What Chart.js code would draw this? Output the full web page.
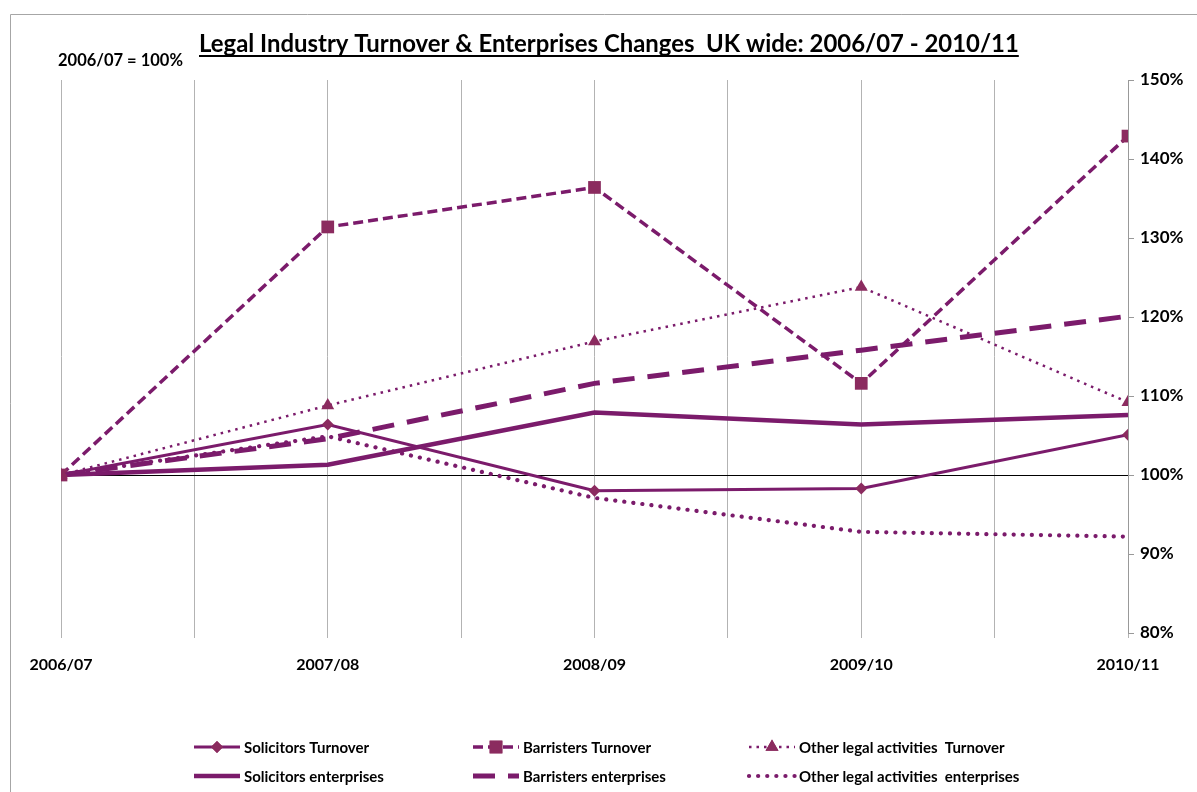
<!DOCTYPE html>
<html>
<head>
<meta charset="utf-8">
<script src="https://cdn.jsdelivr.net/npm/chart.js@4"></script>
<style>
  html, body { margin: 0; padding: 0; background: #fff; }
  #legalChart { display: block; }
</style>
</head>
<body>
<canvas id="legalChart" width="1197" height="792"></canvas>
<script>
// data (2006/07 = 100%)
const years = ['2006/07', '2007/08', '2008/09', '2009/10', '2010/11'];
const solicitorsTurnover = [100, 106.4, 98.0, 98.3, 105.1];
const barristersTurnover = [100, 131.4, 136.4, 111.6, 142.9];
const otherTurnover = [100, 108.8, 116.9, 123.8, 109.2];
const solicitorsEnterprises = [100, 101.3, 107.9, 106.4, 107.6];
const barristersEnterprises = [100, 104.6, 111.6, 115.8, 120.1];
const otherEnterprises = [100, 104.9, 97.1, 92.8, 92.2];
const yTicks = [80, 90, 100, 110, 120, 130, 140, 150];

const lineColor = '#7b1b6b';
const markerColor = '#8b2b5f';
const font = 'Lato, "Open Sans", sans-serif';

function toPoints(arr) {
  return arr.map((v, i) => ({ x: i, y: v }));
}

const seriesList = [
  { label: 'Solicitors Turnover', data: solicitorsTurnover, width: 3, dash: [], cap: 'butt', point: 'rectRot', radius: 6 },
  { label: 'Barristers Turnover', data: barristersTurnover, width: 3.5, dash: [10, 5], cap: 'butt', point: 'rect', radius: 9 },
  { label: 'Other legal activities  Turnover', data: otherTurnover, width: 2.5, dash: [2.5, 5], cap: 'butt', point: 'triangle', radius: 7.5 },
  { label: 'Solicitors enterprises', data: solicitorsEnterprises, width: 4.5, dash: [], cap: 'butt', point: false, radius: 0 },
  { label: 'Barristers enterprises', data: barristersEnterprises, width: 5, dash: [22, 13], cap: 'butt', point: false, radius: 0 },
  { label: 'Other legal activities  enterprises', data: otherEnterprises, width: 4.2, dash: [0.1, 9], cap: 'round', point: false, radius: 0 }
];

// title, base note, frame and legend drawn on the canvas
const decorPlugin = {
  id: 'decor',
  afterDraw(chart) {
    const ctx = chart.ctx;
    ctx.save();
    // frame (top and left edge visible)
    ctx.strokeStyle = '#a6a6a6';
    ctx.lineWidth = 1;
    ctx.beginPath();
    ctx.moveTo(10.5, 800);
    ctx.lineTo(10.5, 14.5);
    ctx.lineTo(1200, 14.5);
    ctx.stroke();

    // title, underlined
    const title = 'Legal Industry Turnover & Enterprises Changes  UK wide: 2006/07 - 2010/11';
    ctx.font = 'bold 20px ' + font;
    let w = ctx.measureText(title).width;
    const size = 20 * 820 / w;
    ctx.font = 'bold ' + size.toFixed(2) + 'px ' + font;
    w = ctx.measureText(title).width;
    ctx.fillStyle = '#000';
    ctx.textBaseline = 'alphabetic';
    ctx.textAlign = 'left';
    const tx = 199;
    ctx.fillText(title, tx, 52);
    ctx.fillRect(tx, 55, w, 2);

    ctx.font = 'bold 16.5px ' + font;
    ctx.fillText('2006/07 = 100%', 58, 66);

    // legend: 3 columns x 2 rows
    const cols = [194, 473, 749];
    const rows = [747, 776];
    ctx.font = 'bold 15px ' + font;
    ctx.textBaseline = 'middle';
    seriesList.forEach((s, i) => {
      const x0 = cols[i % 3];
      const y0 = rows[Math.floor(i / 3)];
      const len = 46;
      ctx.save();
      ctx.strokeStyle = lineColor;
      ctx.lineWidth = s.width;
      ctx.lineCap = s.cap;
      ctx.setLineDash(s.dash);
      ctx.beginPath();
      ctx.moveTo(x0, y0);
      ctx.lineTo(x0 + len, y0);
      ctx.stroke();
      ctx.restore();
      if (s.point) {
        ctx.save();
        ctx.fillStyle = markerColor;
        Chart.helpers.drawPoint(ctx, { pointStyle: s.point, radius: s.radius, rotation: 0, borderWidth: 0 }, x0 + len / 2, y0);
        ctx.fill();
        ctx.restore();
      }
      ctx.fillStyle = '#000';
      ctx.fillText(s.label, x0 + len + 4, y0 + 1);
    });
    ctx.restore();
  }
};

const ctx = document.getElementById('legalChart').getContext('2d');
new Chart(ctx, {
  type: 'line',
  data: {
    datasets: seriesList.map(s => ({
      label: s.label,
      data: toPoints(s.data),
      borderColor: lineColor,
      borderWidth: s.width,
      borderDash: s.dash,
      borderCapStyle: s.cap,
      backgroundColor: markerColor,
      pointStyle: s.point,
      pointRadius: s.radius,
      pointBackgroundColor: markerColor,
      pointBorderWidth: 0,
      pointHoverRadius: s.radius,
      tension: 0,
      fill: false
    }))
  },
  options: {
    responsive: false,
    animation: false,
    devicePixelRatio: 1,
    layout: { padding: { left: 61, top: 80, right: 0, bottom: 0 } },
    plugins: {
      legend: { display: false },
      title: { display: false },
      tooltip: { enabled: false }
    },
    scales: {
      x: {
        type: 'linear',
        min: 0,
        max: years.length - 1,
        grid: {
          color: '#b3b3b3',
          lineWidth: 1,
          drawTicks: true,
          tickLength: 5,
          tickColor: '#b3b3b3'
        },
        border: { display: false },
        ticks: {
          stepSize: 0.5,
          autoSkip: false,
          maxRotation: 0,
          padding: 17,
          color: '#000',
          font: { family: font, size: 16, weight: 'bold' },
          callback: v => Number.isInteger(v) ? years[v] : ''
        },
        afterFit: scale => { scale.height = 792 - 633; }
      },
      y: {
        position: 'right',
        min: 80,
        max: 150,
        afterBuildTicks: scale => { scale.ticks = yTicks.map(v => ({ value: v })); },
        grid: {
          color: c => c.tick && c.tick.value === 100 ? '#000' : 'rgba(0,0,0,0)',
          lineWidth: 1,
          drawTicks: true,
          tickLength: 6,
          tickColor: '#999'
        },
        border: { display: true, color: '#999', width: 1 },
        ticks: {
          padding: 6,
          color: '#000',
          font: { family: font, size: 17, weight: 'bold' },
          callback: v => v + '%'
        },
        afterFit: scale => { scale.width = 1197 - 1128; }
      }
    }
  },
  plugins: [decorPlugin]
});
</script>
</body>
</html>
